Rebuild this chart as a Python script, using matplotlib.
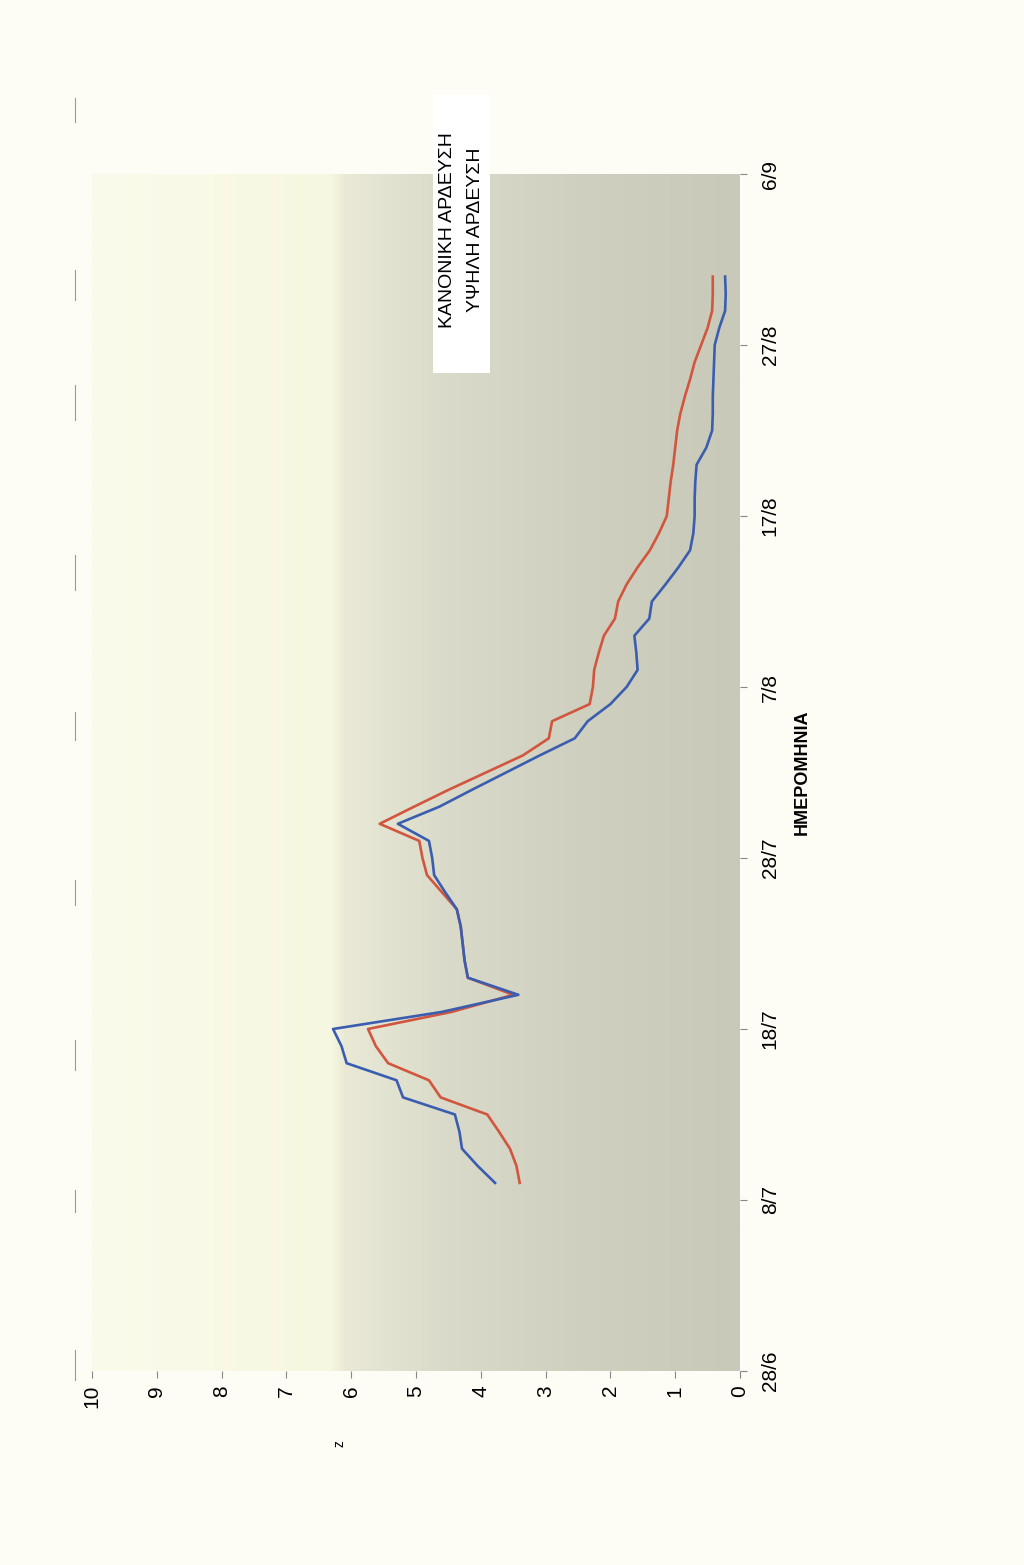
import numpy as np
import matplotlib.pyplot as plt
from matplotlib.colors import LinearSegmentedColormap
from matplotlib.patches import Rectangle
from matplotlib.lines import Line2D

plt.rcParams['font.family'] = ['Liberation Sans', 'DejaVu Sans']

# days counted from 28/6
date_ticks = [0, 10, 20, 30, 40, 50, 60, 70]
date_labels = ['28/6', '8/7', '18/7', '28/7', '7/8', '17/8', '27/8', '6/9']
z_ticks = [0, 1, 2, 3, 4, 5, 6, 7, 8, 9, 10]

days = [11, 12, 13, 14, 15, 16, 17, 18, 19, 20,
        21, 22, 23, 24, 25, 26, 27, 28, 29, 30,
        31, 32, 33, 34, 35, 36, 37, 38, 39, 40,
        41, 42, 43, 44, 45, 46, 47, 48, 49, 50,
        51, 52, 53, 54, 55, 56, 57, 58, 59, 60,
        61, 62, 63, 64]

kanoniki = [3.78, 4.05, 4.29, 4.33, 4.40, 5.20, 5.30, 6.07, 6.15, 6.28,
            4.60, 3.42, 4.20, 4.25, 4.28, 4.31, 4.37, 4.55, 4.72, 4.75,
            4.80, 5.28, 4.64, 4.13, 3.61, 3.09, 2.55, 2.35, 2.00, 1.75,
            1.58, 1.60, 1.63, 1.40, 1.36, 1.15, 0.95, 0.77, 0.72, 0.70,
            0.70, 0.69, 0.67, 0.52, 0.43, 0.42, 0.42, 0.41, 0.40, 0.39,
            0.32, 0.23, 0.22, 0.23]

ypsili = [3.40, 3.45, 3.55, 3.72, 3.90, 4.62, 4.80, 5.43, 5.62, 5.74,
          4.45, 3.50, 4.20, 4.25, 4.28, 4.31, 4.37, 4.60, 4.83, 4.90,
          4.95, 5.56, 5.03, 4.49, 3.92, 3.35, 2.95, 2.90, 2.32, 2.27,
          2.25, 2.18, 2.10, 1.93, 1.88, 1.75, 1.58, 1.39, 1.25, 1.13,
          1.10, 1.07, 1.03, 1.00, 0.97, 0.92, 0.85, 0.77, 0.70, 0.60,
          0.50, 0.43, 0.42, 0.42]

series_names = ['ΚΑΝΟΝΙΚΗ ΑΡΔΕΥΣΗ', 'ΥΨΗΛΗ ΑΡΔΕΥΣΗ']

fig = plt.figure(figsize=(10.24, 15.65), dpi=100)
fig.patch.set_facecolor('#fdfdf5')

# the page is scanned sideways: z runs right-to-left, dates run upwards
ax = fig.add_axes([92 / 1024, 194 / 1565, 648 / 1024, 1197 / 1565])

bg = LinearSegmentedColormap.from_list('bg', [
    (0.00, '#fbfbec'), (0.37, '#f6f7e0'), (0.39, '#e9e9d6'),
    (0.55, '#d9dac9'), (0.75, '#cfd0c0'), (1.00, '#c8c9b9')])
ax.imshow(np.linspace(0, 1, 256)[None, :], extent=[10, 0, 0, 70],
          aspect='auto', cmap=bg, zorder=0)

ax.plot(kanoniki, days, color='#3b5daf', lw=1.9, zorder=3)
ax.plot(ypsili, days, color='#d2553e', lw=1.9, zorder=2)

ax.set_xlim(10, 0)
ax.set_ylim(0, 70)
for s in ax.spines.values():
    s.set_visible(False)

ax.set_xticks(z_ticks)
ax.set_xticklabels([str(v) for v in z_ticks], rotation=90, fontsize=15)
ax.set_yticks(date_ticks)
ax.set_yticklabels(date_labels, rotation=90, va='center', fontsize=15)
ax.yaxis.tick_right()
ax.tick_params(length=5, width=0.8, color='#888888')
ax.tick_params(axis='x', pad=5)
ax.tick_params(axis='y', pad=10)

ax.set_xlabel('z', rotation=90, fontsize=10)
ax.xaxis.set_label_coords((340 - 92) / 648, -0.058)
ax.yaxis.set_label_position('right')
ax.set_ylabel('ΗΜΕΡΟΜΗΝΙΑ', rotation=90, fontsize=13, fontweight='bold',
              labelpad=10)

# legend box (line keys are not visible on the scan)
fig.add_artist(Rectangle((433 / 1024, 1 - 373 / 1565), 57 / 1024, 278 / 1565,
                         transform=fig.transFigure, facecolor='white',
                         edgecolor='none', zorder=5))
for i, name in enumerate(series_names):
    fig.text((448 + 28 * i) / 1024, 1 - 230 / 1565, name, rotation=90,
             ha='center', va='center', fontsize=14, zorder=6)

# broken page edge line from the scan
for y0, y1 in [(98, 122), (270, 300), (385, 420), (555, 590), (712, 740),
               (880, 905), (1040, 1070), (1190, 1212), (1350, 1380)]:
    fig.add_artist(Line2D([75 / 1024, 75 / 1024], [1 - y0 / 1565, 1 - y1 / 1565],
                          transform=fig.transFigure, color='#9a9a9a', lw=0.8))

fig.savefig('out.png', dpi=100, facecolor=fig.get_facecolor())
